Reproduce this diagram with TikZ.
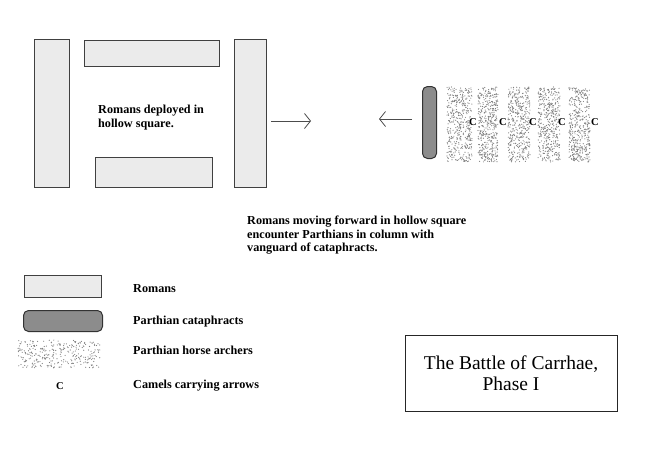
\documentclass[tikz,border=0pt]{standalone}
\usepackage{fontspec}
\setmainfont{Liberation Serif}
\usetikzlibrary{arrows.meta, positioning}

\tikzset{
    roman/.style={draw=black!75, line width=1.2pt, fill=black!8, inner sep=0pt, anchor=north west},
    cata/.style={draw=black!80, line width=1pt, fill=black!45, rounded corners=5pt, inner sep=0pt, anchor=north west},
    archers/.style={inner sep=0pt, anchor=north west},
    note/.style={font=\bfseries\fontsize{12.2}{13.5}\selectfont, align=left, anchor=west, inner sep=0pt},
    camel/.style={font=\bfseries\fontsize{10.5}{11}\selectfont, inner sep=0pt},
    march/.style={draw=black!70, line width=0.8pt, -{Straight Barb[length=6pt,width=15pt,line width=0.8pt]}},
}

\begin{document}
\begin{tikzpicture}[x=1pt, y=-1pt]
    \useasboundingbox (0,0) rectangle (650,472);
    \pgfmathsetseed{1234}

    % hollow square
    \node[roman, minimum width=35pt, minimum height=148pt] (rleft) at (34,39) {};
    \node[roman, minimum width=135pt, minimum height=26pt] (rtop) at (84,40) {};
    \node[roman, minimum width=117pt, minimum height=30pt] (rbottom) at (95,157) {};
    \node[roman, minimum width=32pt, minimum height=148pt] (rright) at (234,39) {};
    \node[note] (square) at (98,117.5) {Romans deployed in\\hollow square.};

    % parthian column
    \node[cata, minimum width=14pt, minimum height=72pt] (vanguard) at (422,86) {};
    \foreach \name/\x/\w in {h1/447/25, h2/478/20, h3/508/22, h4/538/22, h5/569/21} {
        \node[archers, minimum width=\w pt, minimum height=75pt] (\name) at (\x,87) {};
        \foreach \i in {1,...,420}
            \fill[black!50] ({\x+rnd*\w},{87+rnd*75}) circle (0.6);
    }
    \foreach \x in {473,503,533,562,595}
        \node[camel] at (\x,122) {C};

    \coordinate (rstart) at (271,121);
    \coordinate (rend) at (311,121);
    \coordinate (pstart) at (412,119);
    \coordinate (pend) at (379,119);
    \draw[march] (rstart) -- (rend);
    \draw[march] (pstart) -- (pend);

    \node[note] (encounter) at (247,235.5) {Romans moving forward in hollow square\\encounter Parthians in column with\\vanguard of cataphracts.};

    % legend
    \node[roman, minimum width=77pt, minimum height=22pt] (keyroman) at (24,275) {};
    \node[cata, minimum width=79pt, minimum height=21pt] (keycata) at (23,310) {};
    \node[archers, minimum width=82pt, minimum height=28pt] (keyarch) at (18,340) {};
    \foreach \i in {1,...,300}
        \fill[black!50] ({18+rnd*82},{340+rnd*28}) circle (0.6);
    \node[camel] (keycamel) at (60,386) {C};

    \node[note] at (133,289) {Romans};
    \node[note] at (133,322) {Parthian cataphracts};
    \node[note] at (133,350) {Parthian horse archers};
    \node[note] at (133,386) {Camels carrying arrows};

    \node[draw=black!85, line width=1pt, minimum width=212pt, minimum height=76pt, align=center,
          font=\fontsize{19.5}{21}\selectfont] (title) at (511,373) {The Battle of Carrhae,\\Phase I};
\end{tikzpicture}
\end{document}
